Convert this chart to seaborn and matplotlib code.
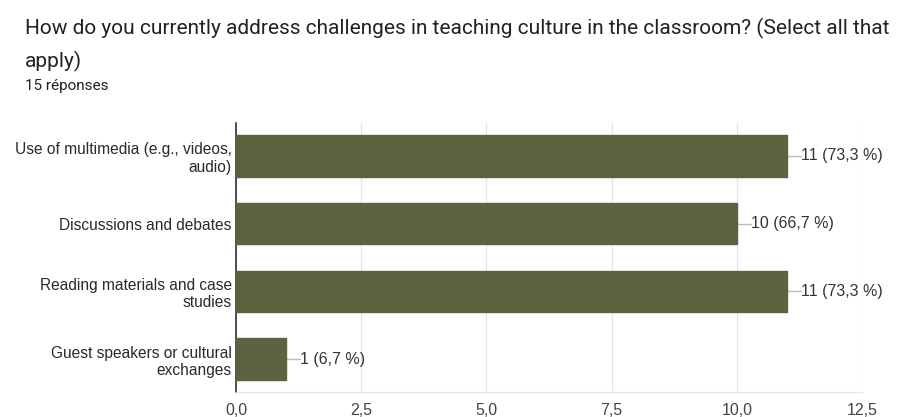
import matplotlib
matplotlib.use("Agg")
import matplotlib.pyplot as plt
import seaborn as sns
import pandas as pd

categories = [
    "Use of multimedia (e.g., videos,\naudio)",
    "Discussions and debates",
    "Reading materials and case\nstudies",
    "Guest speakers or cultural\nexchanges",
]
counts = [11, 10, 11, 1]
percents = ["73,3", "66,7", "73,3", "6,7"]
xticks = [0.0, 2.5, 5.0, 7.5, 10.0, 12.5]
xtick_labels = ["0,0", "2,5", "5,0", "7,5", "10,0", "12,5"]
title = "How do you currently address challenges in teaching culture in the classroom? (Select all that\napply)"
subtitle = "15 réponses"

sns.set_theme(style="white")
plt.rcParams['font.family'] = ['Liberation Sans', 'DejaVu Sans']
tfont = ['Roboto', 'DejaVu Sans']

df = pd.DataFrame({"cat": categories, "count": counts})

fig = plt.figure(figsize=(8.99, 4.17), dpi=100)
ax = fig.add_axes([236/899, 1 - 392/417, (862-236)/899, (392-123)/417])

sns.barplot(data=df, y="cat", x="count", orient="h", color="#5b6340",
            saturation=1, width=0.61, ax=ax, zorder=3)
for p in ax.patches:
    p.set_edgecolor("#5b6340")

ax.set_xlim(0, 12.5)
ax.set_xticks(xticks)
ax.set_xticklabels(xtick_labels, fontsize=11.5, color="#444444")
ax.tick_params(axis="y", labelsize=11.2, labelcolor="#2a2a2a", length=0, pad=3)
ax.tick_params(axis="x", length=0, pad=8)
for lbl in ax.get_yticklabels():
    lbl.set_horizontalalignment("right")
    lbl.set_multialignment("right")
ax.set_xlabel("")
ax.set_ylabel("")
ax.grid(axis="x", color="#e6e6e6", linewidth=1, zorder=0)
ax.grid(axis="y", visible=False)
for s in ["top", "right"]:
    ax.spines[s].set_visible(False)
ax.spines["left"].set_color("#333333")
ax.spines["left"].set_linewidth(1.2)
ax.spines["bottom"].set_color("#e6e6e6")
ax.spines["bottom"].set_linewidth(1)

for i, (c, pc) in enumerate(zip(counts, percents)):
    ax.plot([c, c + 0.28], [i, i], color="#bbbbbb", linewidth=1, zorder=2, clip_on=False)
    ax.text(c + 0.28, i, f"{c} ({pc} %)", va="center", ha="left", fontsize=11.5, color="#333333")

fig.text(25/899, 1 - 18/417, title, fontsize=15, color="#222222", va="top", ha="left",
         linespacing=1.75, family=tfont)
fig.text(25/899, 1 - 86/417, subtitle, fontsize=11, color="#222222", va="center", ha="left",
         family=tfont)

fig.savefig("out.png", dpi=100)
